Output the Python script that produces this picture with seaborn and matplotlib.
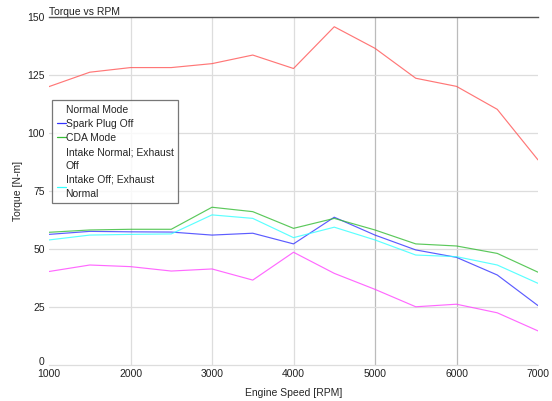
import matplotlib
matplotlib.use("Agg")
import matplotlib.pyplot as plt
from matplotlib.lines import Line2D
from matplotlib.transforms import ScaledTranslation
import seaborn as sns
import pandas as pd

rpm = [1000, 1500, 2000, 2500, 3000, 3500, 4000, 4500, 5000, 5500, 6000, 6500, 7000]
normal_mode = [120.0, 126.2, 128.2, 128.2, 129.9, 133.6, 127.8, 145.8, 136.5, 123.6, 120.1, 110.2, 88.4]
spark_plug_off = [56.3, 57.6, 57.4, 57.3, 56.0, 56.8, 52.2, 63.7, 56.0, 49.6, 46.4, 38.8, 25.6]
cda_mode = [57.2, 58.2, 58.5, 58.5, 68.0, 66.1, 58.9, 63.2, 58.2, 52.2, 51.3, 48.1, 40.0]
intake_normal_exhaust_off = [40.3, 43.1, 42.4, 40.5, 41.4, 36.6, 48.6, 39.5, 32.6, 25.1, 26.2, 22.5, 14.7]
intake_off_exhaust_normal = [53.9, 56.0, 56.3, 56.5, 64.7, 63.2, 54.9, 59.4, 53.9, 47.4, 46.7, 43.1, 35.2]

series_names = ["Normal Mode", "Spark Plug Off", "CDA Mode",
                "Intake Normal; Exhaust Off", "Intake Off; Exhaust Normal"]
series_values = [normal_mode, spark_plug_off, cda_mode,
                 intake_normal_exhaust_off, intake_off_exhaust_normal]
legend_labels = ["Normal Mode", "Spark Plug Off", "CDA Mode",
                 "Intake Normal; Exhaust\nOff", "Intake Off; Exhaust\nNormal"]
colors = ["#ff5555", "#3333ff", "#33bb33", "#ff44ff", "#33ffff"]
x_ticks = [1000, 2000, 3000, 4000, 5000, 6000, 7000]
y_ticks = [0, 25, 50, 75, 100, 125, 150]

rows = []
for name, vals in zip(series_names, series_values):
    for r, v in zip(rpm, vals):
        rows.append({"rpm": r, "torque": v, "mode": name})
df = pd.DataFrame(rows)

sns.set_theme(style="white")
plt.rcParams["font.family"] = ["Liberation Sans", "DejaVu Sans"]

fig = plt.figure(figsize=(5.52, 4.01), dpi=100)
ax = fig.add_axes([49 / 552, 36 / 401, 489 / 552, 348 / 401])

sns.lineplot(data=df, x="rpm", y="torque", hue="mode", hue_order=series_names,
             palette=dict(zip(series_names, colors)), linewidth=0.85, alpha=0.8,
             legend=False, ax=ax)

ax.set_xlim(1000, 7000)
ax.set_ylim(0, 150)
ax.set_xticks(x_ticks)
ax.set_yticks(y_ticks)
ax.tick_params(axis="both", labelsize=7.5, colors="#222222", length=0, pad=3)
ax.set_xlabel("Engine Speed [RPM]", fontsize=7.5, labelpad=6)
ax.set_ylabel("Torque [N-m]", fontsize=7.5, labelpad=3)

ax.grid(True, axis="both", color="#dddddd", linewidth=0.9)
for i, gl in enumerate(ax.get_xgridlines()):
    if x_ticks[i] in (1000, 7000):
        gl.set_visible(False)
    elif x_ticks[i] in (5000, 6000):
        gl.set_color("#bbbbbb")
for i, gl in enumerate(ax.get_ygridlines()):
    if y_ticks[i] in (0, 150):
        gl.set_visible(False)

for s in ("left", "right"):
    ax.spines[s].set_visible(False)
ax.spines["top"].set_color("#555555")
ax.spines["top"].set_linewidth(1.0)
ax.spines["bottom"].set_color("#dddddd")
ax.spines["bottom"].set_linewidth(0.9)

ax.set_title("Torque vs RPM", loc="left", fontsize=7.5, color="#222222", pad=1.5)

handles = []
for name, c in zip(series_names, colors):
    visible = name not in ("Normal Mode", "Intake Normal; Exhaust Off")
    handles.append(Line2D([0], [0], color=c, linewidth=0.9,
                          alpha=1.0 if visible else 0.0))
leg = ax.legend(handles, legend_labels, loc="upper left",
                bbox_to_anchor=(3 / 489, (365 - 100) / 348), borderaxespad=0,
                fontsize=7.5, frameon=True, fancybox=False, shadow=False,
                handlelength=0.85, handletextpad=0.0, borderpad=0.45,
                labelspacing=0.4)
for t in leg.get_texts():
    t.set_linespacing(1.45)
leg.get_frame().set_edgecolor("#555555")
leg.get_frame().set_linewidth(0.9)

for lab in ax.get_yticklabels():
    if lab.get_text() == "0":
        lab.set_transform(lab.get_transform() + ScaledTranslation(0, 3 / 72, fig.dpi_scale_trans))

fig.savefig("out.png", dpi=100)
